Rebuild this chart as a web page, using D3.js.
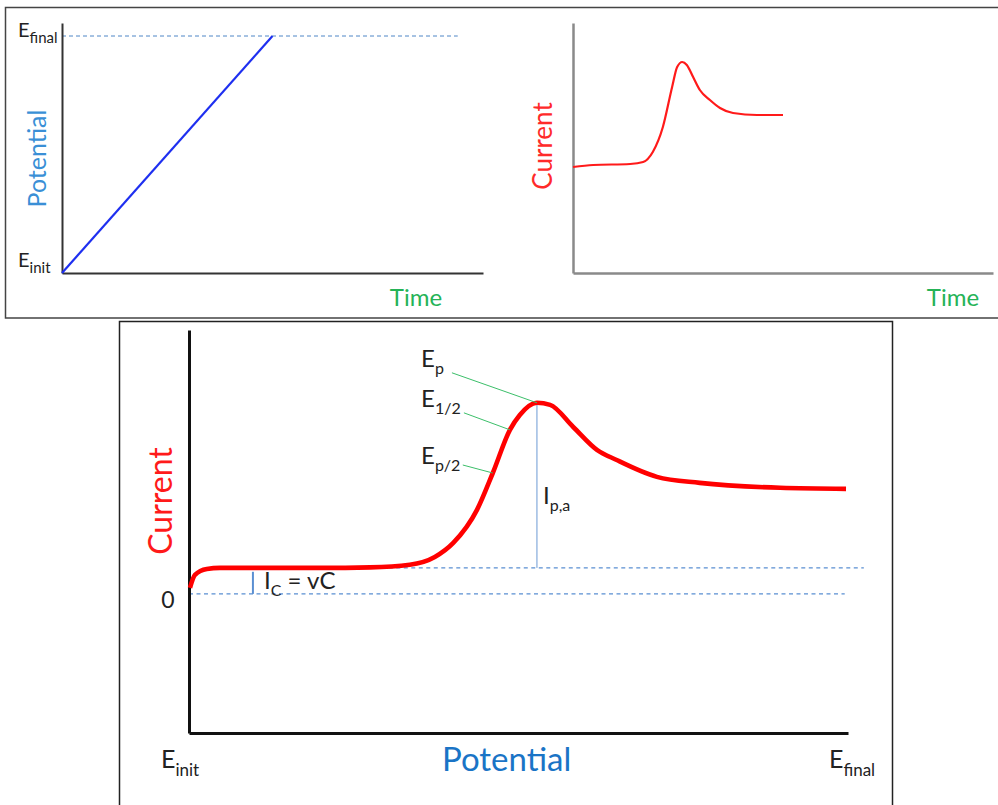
<!DOCTYPE html>
<html>
<head>
<meta charset="utf-8">
<script src="https://cdn.jsdelivr.net/npm/d3@7"></script>
<style>
    body { margin: 0; background: #fff; }
    svg text { font-family: Lato, "Open Sans", sans-serif; }
</style>
</head>
<body>
<svg id="chart" width="998" height="805"></svg>
<script>
// potential ramp (panel 1): time and potential as fraction of the axes
let rampTime = [0, 0.5];
let rampPotential = [0, 1];

// current vs time (panel 2), arbitrary units 0..100
let timeValues = [0, 4.8, 13.6, 16.7, 19, 21.4, 23.6, 24.8, 26, 27.1, 28.6, 30.2, 32.6, 35, 38.1, 43.8, 50];
let currentValues = [42.4, 43.2, 43.6, 44.4, 48.4, 58.4, 74.4, 82.4, 84.4, 83.2, 78.4, 73.2, 69.2, 66, 64, 63.2, 63.2];

// current vs potential (panel 3), charging current = 1
let potentialValues = [0.15, 0.9, 2.7, 4.7, 19.9, 27.5, 33.5, 37.3, 40.1, 43.7, 46.1, 48.7, 50.2, 52.8, 54.8, 58.3, 61.9, 64.9, 71, 77.5, 89.7, 99.7];
let cvCurrent = [0.23, 0.73, 0.96, 1.0, 1.0, 1.02, 1.12, 1.42, 1.96, 3.23, 4.65, 6.31, 6.88, 7.35, 7.27, 6.42, 5.54, 5.15, 4.5, 4.27, 4.08, 4.04];

let chargingCurrent = 1;
let peak = { E: 52.8, I: 7.35 };
let halfWave = { E: 48.7, I: 6.31 };
let halfPeak = { E: 46.1, I: 4.65 };
let icMarkerE = 9.7;

let svg = d3.select("#chart");

function subLabel(g, x, y, main, sub, size, subSize, anchor) {
    let t = g.append("text")
        .attr("x", x)
        .attr("y", y)
        .attr("text-anchor", anchor || "start")
        .attr("fill", "#222")
        .style("font-size", size + "px");
    t.append("tspan").text(main);
    t.append("tspan")
        .attr("dy", size * 0.3)
        .style("font-size", subSize + "px")
        .text(sub);
    return t;
}

function bareAxis(g, axis, transform, color, width) {
    let a = g.append("g")
        .attr("transform", transform)
        .call(axis.ticks(0).tickSizeOuter(0));
    a.select(".domain").attr("stroke", color).attr("stroke-width", width);
    return a;
}

// ---- frames ----
svg.append("path")
    .attr("d", "M1000,7.5 H5.5 V318 H1000")
    .attr("fill", "none")
    .attr("stroke", "#444")
    .attr("stroke-width", 1.5);
svg.append("rect")
    .attr("x", 119.5).attr("y", 321.5)
    .attr("width", 773).attr("height", 500)
    .attr("fill", "none")
    .attr("stroke", "#222")
    .attr("stroke-width", 1.5);

// ---- panel 1: potential vs time ----
function drawRamp() {
    let g = svg.append("g");
    let x = d3.scaleLinear().domain([0, 1]).range([62, 483]);
    let y = d3.scaleLinear().domain([0, 1]).range([273, 36]);

    g.append("line")
        .attr("x1", x(0)).attr("x2", x(0.94))
        .attr("y1", y(1)).attr("y2", y(1))
        .attr("stroke", "#4f86c6")
        .attr("stroke-width", 1)
        .attr("stroke-dasharray", "4,3");

    bareAxis(g, d3.axisLeft(d3.scaleLinear().range([273, 23])), `translate(${x(0)},0)`, "#333", 2);
    bareAxis(g, d3.axisBottom(x), `translate(0,${y(0)})`, "#333", 2);

    g.append("path")
        .datum(rampTime.map((t, i) => [t, rampPotential[i]]))
        .attr("d", d3.line().x(d => x(d[0])).y(d => y(d[1])))
        .attr("fill", "none")
        .attr("stroke", "#1e2ff0")
        .attr("stroke-width", 2.2);

    subLabel(g, 18, y(1) + 1, "E", "final", 20, 15);
    subLabel(g, 18, y(0) - 6, "E", "init", 20, 15);

    g.append("text")
        .attr("transform", `translate(46,${(y(0) + y(1)) / 2 + 4}) rotate(-90)`)
        .attr("text-anchor", "middle")
        .attr("fill", "#3a8fd6")
        .style("font-size", "25px")
        .text("Potential");
    g.append("text")
        .attr("x", 416).attr("y", 306)
        .attr("text-anchor", "middle")
        .attr("fill", "#25b357")
        .style("font-size", "24px")
        .text("Time");
}

// ---- panel 2: current vs time ----
function drawTransient() {
    let g = svg.append("g");
    let x = d3.scaleLinear().domain([0, 100]).range([573, 993]);
    let y = d3.scaleLinear().domain([0, 100]).range([273, 23]);

    bareAxis(g, d3.axisLeft(y), `translate(${x(0)},0)`, "#8a8a8a", 2.5);
    bareAxis(g, d3.axisBottom(x), `translate(0,${y(0)})`, "#8a8a8a", 2.5);

    g.append("path")
        .datum(timeValues.map((t, i) => [t, currentValues[i]]))
        .attr("d", d3.line().curve(d3.curveMonotoneX).x(d => x(d[0])).y(d => y(d[1])))
        .attr("fill", "none")
        .attr("stroke", "#ff1a1a")
        .attr("stroke-width", 2.2);

    g.append("text")
        .attr("transform", `translate(552,146) rotate(-90)`)
        .attr("text-anchor", "middle")
        .attr("fill", "#ff2a2a")
        .style("font-size", "26px")
        .text("Current");
    g.append("text")
        .attr("x", 953).attr("y", 306)
        .attr("text-anchor", "middle")
        .attr("fill", "#25b357")
        .style("font-size", "24px")
        .text("Time");
}

// ---- panel 3: linear sweep voltammogram ----
function drawSweep() {
    let g = svg.append("g");
    let x = d3.scaleLinear().domain([0, 100]).range([189, 848]);
    let y = d3.scaleLinear().domain([-5.35, 10.15]).range([733, 330]);

    let dash = (x1, x2, v) => g.append("line")
        .attr("x1", x1).attr("x2", x2)
        .attr("y1", y(v)).attr("y2", y(v))
        .attr("stroke", "#5a8fd2")
        .attr("stroke-width", 1.2)
        .attr("stroke-dasharray", "4,3.5");
    dash(x(0), x(99.5), 0);
    dash(x(3), x(102.4), chargingCurrent);

    // peak current marker
    g.append("line")
        .attr("x1", x(peak.E)).attr("x2", x(peak.E))
        .attr("y1", y(chargingCurrent)).attr("y2", y(peak.I))
        .attr("stroke", "#6b9ad4")
        .attr("stroke-width", 1);
    // charging current marker
    g.append("line")
        .attr("x1", x(icMarkerE)).attr("x2", x(icMarkerE))
        .attr("y1", y(0)).attr("y2", y(chargingCurrent * 0.85))
        .attr("stroke", "#5a8fd2")
        .attr("stroke-width", 2);

    bareAxis(g, d3.axisLeft(y), `translate(${x(0)},0)`, "#111", 3);
    bareAxis(g, d3.axisBottom(x), `translate(0,${y(-5.35)})`, "#111", 3);

    g.append("path")
        .datum(potentialValues.map((e, i) => [e, cvCurrent[i]]))
        .attr("d", d3.line().curve(d3.curveMonotoneX).x(d => x(d[0])).y(d => y(d[1])))
        .attr("fill", "none")
        .attr("stroke", "#ff0000")
        .attr("stroke-width", 4.6)
        .attr("stroke-linejoin", "round");

    // leaders to the characteristic potentials
    let leaders = [
        { p: peak, dx: -85, dy: -30, main: "E", sub: "p" },
        { p: halfWave, dx: -46, dy: -17, main: "E", sub: "1/2" },
        { p: halfPeak, dx: -30, dy: -8, main: "E", sub: "p/2" }
    ];
    let textY = [367, 407, 464];
    leaders.forEach((l, i) => {
        let ex = x(l.p.E), ey = y(l.p.I);
        g.append("line")
            .attr("x1", ex + l.dx).attr("y1", ey + l.dy)
            .attr("x2", ex).attr("y2", ey)
            .attr("stroke", "#3cbf6a")
            .attr("stroke-width", 1);
        subLabel(g, 421, textY[i], l.main, l.sub, 24, 16);
    });

    subLabel(g, x(peak.E) + 6, 504, "I", "p,a", 24, 16);

    let ic = subLabel(g, 264, 589, "I", "C", 24, 16);
    ic.append("tspan").attr("dy", -7).text(" = vC");

    g.append("text")
        .attr("x", 168).attr("y", y(0) + 14)
        .attr("text-anchor", "middle")
        .attr("fill", "#222")
        .style("font-size", "23px")
        .text("0");

    subLabel(g, 161, 768, "E", "init", 25, 17);
    subLabel(g, 829, 768, "E", "final", 25, 17);

    g.append("text")
        .attr("x", x(48.2)).attr("y", 771)
        .attr("text-anchor", "middle")
        .attr("fill", "#1a74c6")
        .style("font-size", "33px")
        .text("Potential");
    g.append("text")
        .attr("transform", `translate(172,${501}) rotate(-90)`)
        .attr("text-anchor", "middle")
        .attr("fill", "#ff1a1a")
        .style("font-size", "32px")
        .text("Current");
}

drawRamp();
drawTransient();
drawSweep();
</script>
</body>
</html>
